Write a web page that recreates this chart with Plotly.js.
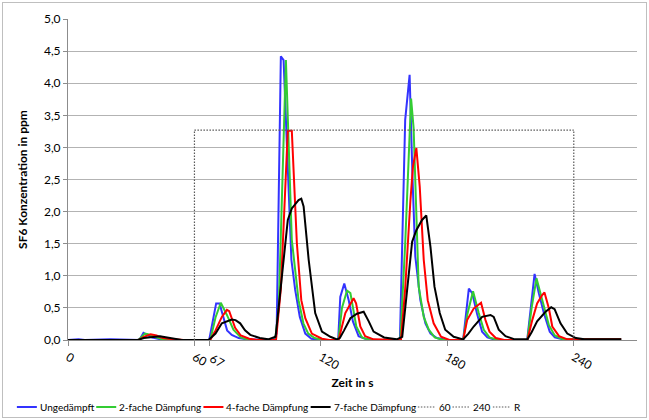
<!DOCTYPE html>
<html>
<head>
<meta charset="utf-8">
<script src="https://cdn.plot.ly/plotly-3.0.1.min.js"></script>
<style>
  html, body { margin: 0; padding: 0; background: #fff; }
  #frame { position: absolute; left: 2px; top: 2px; width: 643px; height: 414px; border: 1px solid #bfbfbf; }
  #chart { position: absolute; left: 0; top: 0; width: 649px; height: 420px; }
</style>
</head>
<body>
<div id="frame"></div>
<div id="chart"></div>
<script>
// Series names
const seriesNames = ["Ungedämpft", "2-fache Dämpfung", "4-fache Dämpfung", "7-fache Dämpfung"];

// Ungedämpft
const tBlue = [0,5,8,20,33.9,35.8,37.5,40,44,50,67,70.3,71.9,73.8,75.5,77.7,81,85,97.5,99,101,102.3,104.2,106,107.8,110,112.6,115.5,120,128.2,129.2,131.1,133.2,135.2,137.9,141,145,157.5,160,162.1,163.5,164.8,167.2,169.6,172,175,180,187.5,190.2,191.8,194.1,196.5,199,203,217.9,221.4,223.4,225.8,228.6,231,235,262.5];
const vBlue = [0,0.01,0,0.01,0,0.11,0.08,0.04,0.01,0,0,0.57,0.57,0.36,0.15,0.08,0.03,0.01,0,0.1,4.42,4.36,2.6,1.25,0.78,0.36,0.1,0.02,0,0,0.67,0.88,0.62,0.29,0.06,0.02,0,0,3.43,4.13,2.5,1.3,0.62,0.26,0.1,0.03,0,0,0.8,0.73,0.41,0.13,0.04,0,0,1.03,0.73,0.42,0.13,0.04,0.01,0.01];

// 2-fache Dämpfung
const tGreen = [0,33.5,36.5,38,41,45,52,67.5,70,72.5,75.4,78.5,82,86,98.3,100,103.4,106.2,109.4,111.7,114,117,121,128.3,130,132.4,134,136.8,139.5,143,157.7,160,162.8,164,166.4,168.8,171.2,174,178,187.5,189.5,192.2,194.9,197.3,200,204,218,220,222.3,225,228.2,231,235,262.5];
const vGreen = [0,0,0.1,0.09,0.05,0.01,0,0,0.35,0.58,0.39,0.16,0.04,0,0,0.5,4.36,1.56,0.62,0.26,0.1,0.03,0,0,0.5,0.77,0.73,0.21,0.04,0,0,1.5,3.76,3.3,0.83,0.36,0.16,0.04,0,0,0.4,0.76,0.42,0.16,0.04,0,0,0.5,0.96,0.62,0.23,0.07,0.01,0.01];

// 4-fache Dämpfung
const tRed = [0,33.5,36,39.2,42,45,50,55,67.5,70,73,75.4,76.5,79.3,82,86,90,98.7,101,104.3,106.2,108.6,110.7,112.6,115.7,120.5,124,128.4,131.6,135.5,136.7,138.7,141,145,158,160,162.5,163.7,165.3,166.9,168.8,170.7,173.5,177,181,187.5,189.4,192.5,196,198.1,200,203,207,218,220.3,222.6,225,226.1,228.2,229.8,233,237,262.5];
const vRed = [0,0,0.05,0.09,0.07,0.03,0.01,0,0,0.15,0.36,0.47,0.45,0.19,0.07,0.02,0,0,0.8,3.26,3.26,1.51,0.62,0.34,0.1,0.02,0,0,0.42,0.65,0.57,0.21,0.06,0.01,0,0.8,2.18,2.7,2.99,2.39,1.25,0.62,0.26,0.05,0,0,0.31,0.49,0.58,0.31,0.13,0.03,0,0,0.31,0.57,0.7,0.74,0.49,0.21,0.06,0.01,0.01];

// 7-fache Dämpfung
const tBlack = [0,33,36,40,43.7,47,50,54,66.7,70,73,77.7,79.5,81.7,84,86.5,91,95,98.5,101.5,104.3,106.2,109.4,110.7,111.8,114.2,117.3,120.5,124.5,127.6,129,131,134,137.1,140.3,142.7,145,150,156,158.6,160.9,163.3,165.3,168,170,172,173.9,176.4,179,183,187.5,190,192.5,196.5,200.5,202,204.4,207.6,212,218,220,222.6,226.6,229.3,230.9,233.7,236.9,241,245,262.5];
const vBlack = [0,0,0.03,0.05,0.06,0.04,0.02,0,0,0.1,0.26,0.32,0.31,0.26,0.15,0.08,0.03,0.01,0.05,1.04,1.87,2.05,2.18,2.2,2.08,1.25,0.42,0.13,0.05,0.01,0.03,0.15,0.34,0.41,0.44,0.29,0.13,0.04,0.01,0.05,0.73,1.53,1.71,1.87,1.94,1.45,0.83,0.42,0.16,0.05,0.01,0.1,0.21,0.36,0.39,0.36,0.16,0.06,0.01,0.01,0.12,0.29,0.44,0.51,0.48,0.26,0.1,0.03,0.01,0.01];

// Reference lines "60", "240", "R"
const refNames = ["60", "240", "R"];
const refLevel = 3.27;
const refStart = 60;
const refEnd = 240;

// Axis ticks
const xTickVals = [0, 60, 67, 120, 180, 240];
const xTickText = ["0", "60\u00a0", "\u00a067", "120", "180", "240"];
const yTickVals = [0, 0.5, 1, 1.5, 2, 2.5, 3, 3.5, 4, 4.5, 5];

const colors = ["#3333ff", "#33cc33", "#ff0000", "#000000"];
const refColor = "#595959";
const dotDash = "1.5px,1.5px";

const xs = [tBlue, tGreen, tRed, tBlack];
const ys = [vBlue, vGreen, vRed, vBlack];

const traces = seriesNames.map((n, i) => ({
  type: "scatter", mode: "lines", name: n,
  x: xs[i], y: ys[i],
  line: { color: colors[i], width: 2 }
}));

const refDash = { color: refColor, width: 1.2, dash: dotDash };
traces.push({ type: "scatter", mode: "lines", name: refNames[0], x: [refStart, refStart], y: [0, refLevel], line: refDash });
traces.push({ type: "scatter", mode: "lines", name: refNames[1], x: [refEnd, refEnd], y: [0, refLevel], line: refDash });
traces.push({ type: "scatter", mode: "lines", name: refNames[2], x: [refStart, refEnd], y: [refLevel, refLevel], line: refDash });

const font = "Lato, 'Open Sans', sans-serif";
const legendFontSize = 10;

// Custom single-row legend (pixel layout of the figure)
const L = 68, R = 637, T = 19, B = 340;
const px = p => (p - L) / (R - L);
const py = p => (B - p) / (B - T);
const legendY = 407;
const legendCenter = 268;

const ctx = document.createElement("canvas").getContext("2d");
ctx.font = legendFontSize + "px Lato";
const legendDefs = [
  { name: seriesNames[0], color: colors[0], dash: "solid", w: 2, len: 20 },
  { name: seriesNames[1], color: colors[1], dash: "solid", w: 2, len: 20 },
  { name: seriesNames[2], color: colors[2], dash: "solid", w: 2, len: 20 },
  { name: seriesNames[3], color: colors[3], dash: "solid", w: 2, len: 20 },
  { name: refNames[0], color: refColor, dash: dotDash, w: 1.2, len: 18 },
  { name: refNames[1], color: refColor, dash: dotDash, w: 1.2, len: 18 },
  { name: refNames[2], color: refColor, dash: dotDash, w: 1.2, len: 18 }
];
const gapLine = 2, gapItem = 3;
let total = 0;
legendDefs.forEach((d, i) => {
  d.tw = ctx.measureText(d.name).width;
  total += d.len + gapLine + d.tw + (i < legendDefs.length - 1 ? gapItem : 0);
});
let cur = legendCenter - total / 2;
const shapes = [], annotations = [];
legendDefs.forEach(d => {
  shapes.push({
    type: "line", xref: "paper", yref: "paper",
    x0: px(cur), x1: px(cur + d.len), y0: py(legendY), y1: py(legendY),
    line: { color: d.color, width: d.w, dash: d.dash }
  });
  cur += d.len + gapLine;
  annotations.push({
    xref: "paper", yref: "paper", x: px(cur - 1), y: py(legendY),
    xanchor: "left", yanchor: "middle", showarrow: false, text: d.name,
    font: { family: font, size: legendFontSize, color: "#000" }
  });
  cur += d.tw + gapItem;
});

const layout = {
  width: 649, height: 420,
  margin: { l: L, r: 649 - R, t: T, b: 420 - B },
  paper_bgcolor: "rgba(0,0,0,0)",
  plot_bgcolor: "rgba(0,0,0,0)",
  separators: ", ",
  font: { family: font, size: 12, color: "#000" },
  showlegend: false,
  shapes: shapes,
  annotations: annotations,
  xaxis: {
    range: [0, 270], tickmode: "array", tickvals: xTickVals, ticktext: xTickText,
    showgrid: false, zeroline: false, showline: true, linecolor: "#8c8c8c", linewidth: 1,
    ticks: "outside", ticklen: 5, tickcolor: "#8c8c8c",
    tickfont: { family: font, size: 12 },
    title: { text: "<b>Zeit in s</b>", font: { family: font, size: 12 }, standoff: 6 }
  },
  yaxis: {
    range: [0, 5], tickmode: "array", tickvals: yTickVals, tickformat: ".1f",
    showgrid: true, gridcolor: "#b3b3b3", gridwidth: 1, zeroline: false,
    showline: true, linecolor: "#8c8c8c", linewidth: 1,
    ticks: "outside", ticklen: 4, tickcolor: "#8c8c8c",
    tickfont: { family: font, size: 12 },
    title: { text: "<b>SF6 Konzentration in ppm</b>", font: { family: font, size: 12 }, standoff: 13 }
  }
};

Plotly.newPlot("chart", traces, layout, { displayModeBar: false, staticPlot: true });
</script>
</body>
</html>
